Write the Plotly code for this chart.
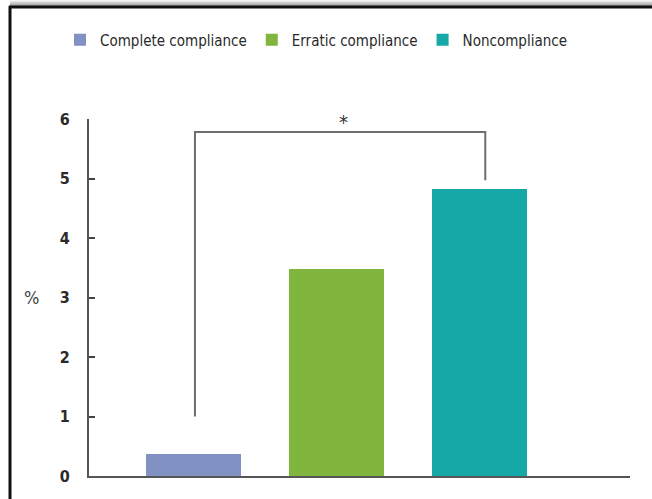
import plotly.graph_objects as go

categories = ["Complete compliance", "Erratic compliance", "Noncompliance"]
values = [0.37, 3.48, 4.82]
colors = ["#8191C4", "#80B53E", "#15A8A6"]
y_ticks = [0, 1, 2, 3, 4, 5, 6]

FONT = "DejaVu Sans Condensed, Liberation Sans Narrow, Arial Narrow, sans-serif"

W, H = 652, 499
L, R, T, B = 89, 22, 119, 23
pw, ph = W - L - R, H - T - B

def px(xp):
    return (xp - L) / pw

def py(yp):
    return (H - B - yp) / ph

fig = go.Figure()
for cat, v, c in zip(categories, values, colors):
    fig.add_trace(go.Bar(x=[cat], y=[v], name=cat, marker=dict(color=c, line=dict(width=0)),
                         width=0.66, showlegend=True))

shapes = []
# significance bracket (data coords on category axis)
shapes.append(dict(type="path", xref="x", yref="y",
                   path="M 0.01,1.0 L 0.01,5.78 L 2.04,5.78 L 2.04,4.97",
                   line=dict(color="#6e6e6e", width=2)))
# frame: gray shading above top line
grays = ["#f4f4f4", "#e4e4e4", "#d2d2d2", "#c0c0c0", "#b0b0b0", "#a0a0a0"]
for i, g in enumerate(grays):
    shapes.append(dict(type="rect", xref="paper", yref="paper",
                       x0=px(10), x1=px(W + 5), y0=py(i + 1), y1=py(i),
                       fillcolor=g, line=dict(width=0), layer="below"))
# top black line
shapes.append(dict(type="line", xref="paper", yref="paper",
                   x0=px(9), x1=px(W + 5), y0=py(7), y1=py(7),
                   line=dict(color="#111111", width=3)))
# left black line
shapes.append(dict(type="line", xref="paper", yref="paper",
                   x0=px(10), x1=px(10), y0=py(6), y1=py(H + 5),
                   line=dict(color="#111111", width=3)))

annotations = [
    dict(text="*", x=1.05, y=5.95, xref="x", yref="y", showarrow=False,
         font=dict(family=FONT, size=20, color="#333333")),
    dict(text="%", x=px(31), y=3, xref="paper", yref="y", showarrow=False,
         xanchor="center", font=dict(family=FONT, size=18, color="#444444")),
]

fig.update_layout(
    width=W, height=H,
    margin=dict(l=L, r=R, t=T, b=B, pad=0),
    paper_bgcolor="white", plot_bgcolor="white",
    barmode="overlay",
    bargap=0,
    font=dict(family=FONT, size=15, color="#333333"),
    showlegend=True,
    legend=dict(orientation="h", x=px(60), y=py(40), xanchor="left", yanchor="middle",
                font=dict(family=FONT, size=15, color="#2a2a2a"),
                bgcolor="rgba(0,0,0,0)", itemsizing="constant"),
    xaxis=dict(type="category", categoryorder="array", categoryarray=categories,
               range=[-0.731, 3.052], showticklabels=False, ticks="",
               showline=True, linecolor="#555555", linewidth=2, showgrid=False,
               zeroline=False, fixedrange=True),
    yaxis=dict(range=[0, 6], tickvals=y_ticks, ticktext=[str(t) for t in y_ticks],
               ticks="inside", ticklen=6, tickwidth=1.5, tickcolor="#444444",
               showline=True, linecolor="#555555", linewidth=2, showgrid=False,
               zeroline=False, ticklabelstandoff=14, fixedrange=True,
               tickfont=dict(family=FONT, size=16, color="#2a2a2a", weight="bold")),
    shapes=shapes,
    annotations=annotations,
)

fig.write_html("out.html", config={"displayModeBar": False},
               post_script="document.body.style.margin='0';")
